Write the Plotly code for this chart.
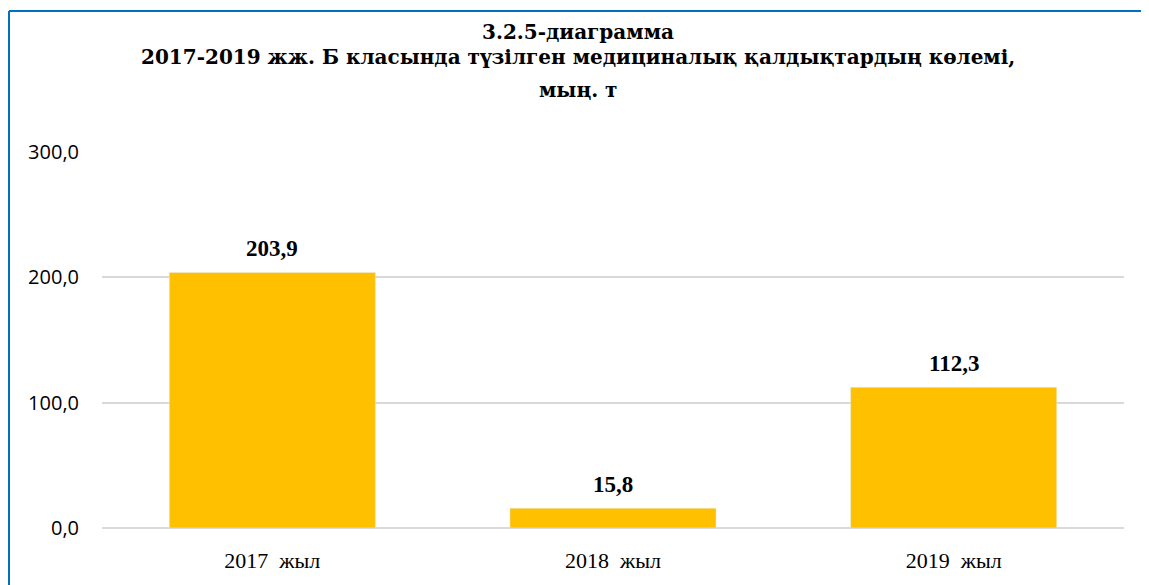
import plotly.graph_objects as go

categories = ["2017\u00a0 жыл", "2018\u00a0 жыл", "2019\u00a0 жыл"]
values = [203.9, 15.8, 112.3]
title_lines = [
    "3.2.5-диаграмма",
    "2017-2019 жж. Б класында түзілген медициналық қалдықтардың көлемі,",
    "мың. т",
]

BAR_COLOR = "#FFC000"
BORDER = "#0070C0"
SERIF = "Liberation Serif"

# page body has an 8px margin, so the figure is sized to fill the rest
W, H = 1141, 577
L, T, B = 94, 144, 57
PW, PH = 1022, H - T - B

fig = go.Figure(
    go.Bar(x=categories, y=values, marker_color=BAR_COLOR, width=0.605, hoverinfo="x+y")
)

# value labels above bars
for cat, val in zip(categories, values):
    fig.add_annotation(
        x=cat, y=val, text=f"<b>{val:.1f}</b>".replace(".", ","),
        showarrow=False, yanchor="bottom", yshift=9,
        font=dict(family=SERIF, size=23, color="#000000"),
    )

# title, one annotation per line (centred a bit left of the plot, as in the source)
for line, ypx in zip(title_lines, [24, 49, 82]):
    fig.add_annotation(
        x=0.466, xref="paper", y=(T + PH - ypx) / PH, yref="paper",
        yanchor="middle", xanchor="center",
        text=f"<b>{line}</b>", showarrow=False,
        font=dict(family="DejaVu Serif", size=20, color="#000000"),
    )

# blue frame around the chart (only top and left edges are visible)
x_left = (1 - L) / PW
y_top = (T + PH - 3) / PH
fig.add_shape(type="line", xref="paper", yref="paper",
              x0=x_left, x1=1.1, y0=y_top, y1=y_top, line=dict(color=BORDER, width=2))
fig.add_shape(type="line", xref="paper", yref="paper",
              x0=x_left, x1=x_left, y0=y_top, y1=-0.3, line=dict(color=BORDER, width=2))

fig.update_layout(
    width=W, height=H,
    margin=dict(l=L, r=W - L - PW, t=T, b=B),
    plot_bgcolor="white", paper_bgcolor="white",
    separators=", ",
    showlegend=False,
)
fig.update_xaxes(
    showline=False, ticks="",
    tickfont=dict(family=SERIF, size=22, color="#000000"),
    ticklabelstandoff=17,
)
fig.update_yaxes(
    range=[0, 300], dtick=100, tickformat=".1f",
    gridcolor="#D9D9D9", gridwidth=1.5,
    zeroline=True, zerolinecolor="#D9D9D9", zerolinewidth=1.5,
    tickfont=dict(family="Open Sans", size=20, color="#000000"),
    ticklabelstandoff=22,
)

fig.write_html("out.html")
